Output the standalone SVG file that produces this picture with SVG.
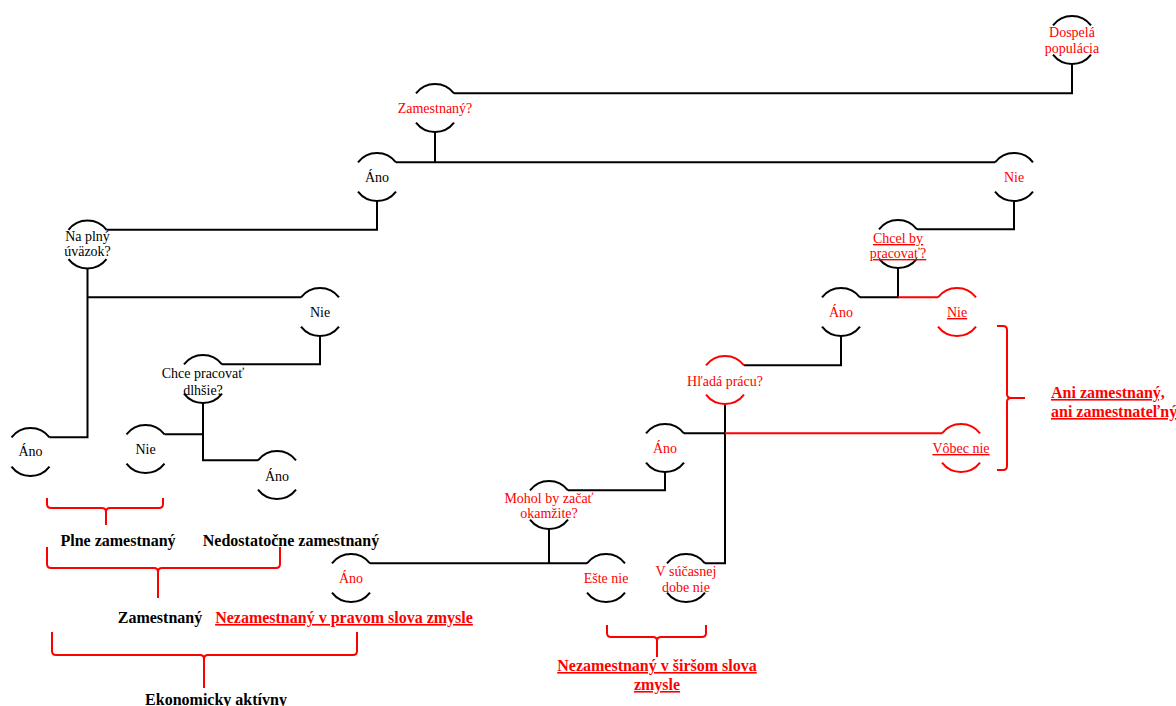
<svg xmlns="http://www.w3.org/2000/svg" width="1176" height="706" viewBox="0 0 1176 706">
<style>
.arc{fill:none;stroke:#000;stroke-width:2}
.arc.r{stroke:#f00}
.ln{fill:none;stroke:#000;stroke-width:2}
.ln.r{stroke:#f00}
.br{fill:none;stroke:#f00;stroke-width:2}
text{font-family:"Liberation Serif","Times New Roman",serif;font-size:14px;text-anchor:middle;fill:#000}
text.red{fill:#f00}
text.u{text-decoration:underline}
text.big{font-size:16px;font-weight:bold}
</style>
<defs>
<path id="ta" d="M-19,-14.7 A24,24 0 0 1 19,-14.7"/>
<path id="ba" d="M-19,14.7 A24,24 0 0 0 19,14.7"/>
</defs>
<rect width="1176" height="706" fill="#fff"/>
<g id="connectors">
<path class="ln" d="M1072,64 V93.3 H454"/>
<path class="ln" d="M435,132 V162.3"/>
<path class="ln" d="M396,162.3 H995"/>
<path class="ln" d="M1014,201 V229.3 H917"/>
<path class="ln" d="M898,268 V297.3 H860"/>
<path class="ln r" d="M898,297.3 H938"/>
<path class="ln" d="M841,336 V365.3 H744"/>
<path class="ln" d="M725,404 V563.3 H705"/>
<path class="ln" d="M684,433.3 H725"/>
<path class="ln r" d="M725,433.3 H942"/>
<path class="ln" d="M665,472 V490.3 H568"/>
<path class="ln" d="M549,529 V563.3"/>
<path class="ln" d="M370,563.3 H587"/>
<path class="ln" d="M377,201 V229.8 H106.5"/>
<path class="ln" d="M87.5,268.5 V437.3 H49.5"/>
<path class="ln" d="M87.5,297.3 H301"/>
<path class="ln" d="M320,336 V364.3 H222"/>
<path class="ln" d="M203,403 V460.3 H258"/>
<path class="ln" d="M203,434.3 H164.5"/>
</g>
<g id="dospela" transform="translate(1072,40)"><use href="#ta" class="arc"/><use href="#ba" class="arc"/><text class="red" y="-3">Dospelá</text><text class="red" y="13">populácia</text></g>
<g id="zamestnany" transform="translate(435,108)"><use href="#ta" class="arc"/><use href="#ba" class="arc"/><text class="red" y="5">Zamestnaný?</text></g>
<g id="ano1" transform="translate(377,177)"><use href="#ta" class="arc"/><use href="#ba" class="arc"/><text y="5">Áno</text></g>
<g id="nie1" transform="translate(1014,177)"><use href="#ta" class="arc"/><use href="#ba" class="arc"/><text class="red" y="5">Nie</text></g>
<g id="naplny" transform="translate(87.5,244.5)"><use href="#ta" class="arc"/><use href="#ba" class="arc"/><text y="-4">Na plný</text><text y="11">úväzok?</text></g>
<g id="nie2" transform="translate(320,312)"><use href="#ta" class="arc"/><use href="#ba" class="arc"/><text y="5">Nie</text></g>
<g id="chce" transform="translate(203,379)"><use href="#ta" class="arc"/><use href="#ba" class="arc"/><text y="-1">Chce pracovať</text><text y="16">dlhšie?</text></g>
<g id="ano-a" transform="translate(30.5,452)"><use href="#ta" class="arc"/><use href="#ba" class="arc"/><text y="4">Áno</text></g>
<g id="nie-b" transform="translate(145.5,449)"><use href="#ta" class="arc"/><use href="#ba" class="arc"/><text y="5">Nie</text></g>
<g id="ano-c" transform="translate(277,475)"><use href="#ta" class="arc"/><use href="#ba" class="arc"/><text y="6">Áno</text></g>
<g id="chcel" transform="translate(898,244)"><use href="#ta" class="arc"/><use href="#ba" class="arc"/><text class="red u" y="-1">Chcel by</text><text class="red u" y="14">pracovať?</text></g>
<g id="ano-d" transform="translate(841,312)"><use href="#ta" class="arc"/><use href="#ba" class="arc"/><text class="red" y="5">Áno</text></g>
<g id="nie-r" transform="translate(957,312)"><use href="#ta" class="arc r"/><use href="#ba" class="arc r"/><text class="red u" y="5">Nie</text></g>
<g id="hlada" transform="translate(725,380)"><use href="#ta" class="arc r"/><use href="#ba" class="arc r"/><text class="red" y="6">Hľadá prácu?</text></g>
<g id="ano-e" transform="translate(665,448)"><use href="#ta" class="arc"/><use href="#ba" class="arc"/><text class="red" y="5">Áno</text></g>
<g id="vobec" transform="translate(961,448)"><use href="#ta" class="arc r"/><use href="#ba" class="arc r"/><text class="red u" y="5">Vôbec nie</text></g>
<g id="mohol" transform="translate(549,505)"><use href="#ta" class="arc"/><use href="#ba" class="arc"/><text class="red" y="-2">Mohol by začať</text><text class="red" y="13">okamžite?</text></g>
<g id="ano-f" transform="translate(351,578)"><use href="#ta" class="arc"/><use href="#ba" class="arc"/><text class="red" y="5">Áno</text></g>
<g id="este" transform="translate(606,578)"><use href="#ta" class="arc"/><use href="#ba" class="arc"/><text class="red" y="5">Ešte nie</text></g>
<g id="vsucasnej" transform="translate(686,578)"><use href="#ta" class="arc"/><use href="#ba" class="arc"/><text class="red" y="-2">V súčasnej</text><text class="red" y="14">dobe nie</text></g>
<g id="brackets">
<path class="br" d="M47,498 V504 Q47,508 51,508 H102 Q106,508 106,512 V525 M106,512 Q106,508 110,508 H159 Q163,508 163,504 V498"/>
<path class="br" d="M47,547 V564 Q47,568 51,568 H154 Q158,568 158,572 V598 M158,572 Q158,568 162,568 H276 Q280,568 280,564 V547"/>
<path class="br" d="M52,632 V651 Q52,655 56,655 H200 Q204,655 204,659 V688 M204,659 Q204,655 208,655 H353 Q357,655 357,651 V632"/>
<path class="br" d="M607,625 V633 Q607,637 611,637 H653 Q657,637 657,641 V657 M657,641 Q657,637 661,637 H702 Q706,637 706,633 V625"/>
<path class="br" d="M997,326 H1003 Q1007,326 1007,330 V394 Q1007,398 1011,398 H1025 M1011,398 Q1007,398 1007,402 V466 Q1007,470 1003,470 H997"/>
</g>
<g id="labels">
<text class="big" x="118" y="546">Plne zamestnaný</text>
<text class="big" x="291" y="546">Nedostatočne zamestnaný</text>
<text class="big" x="160" y="623">Zamestnaný</text>
<text class="big red u" x="344" y="623">Nezamestnaný v pravom slova zmysle</text>
<text class="big" x="216" y="705">Ekonomicky aktívny</text>
<text class="big red u" x="657" y="671">Nezamestnaný v širšom slova</text>
<text class="big red u" x="657" y="690">zmysle</text>
<text class="big red u" x="1051" y="398" style="text-anchor:start">Ani zamestnaný,</text>
<text class="big red u" x="1051" y="417" style="text-anchor:start">ani zamestnateľný</text>
</g>
</svg>
